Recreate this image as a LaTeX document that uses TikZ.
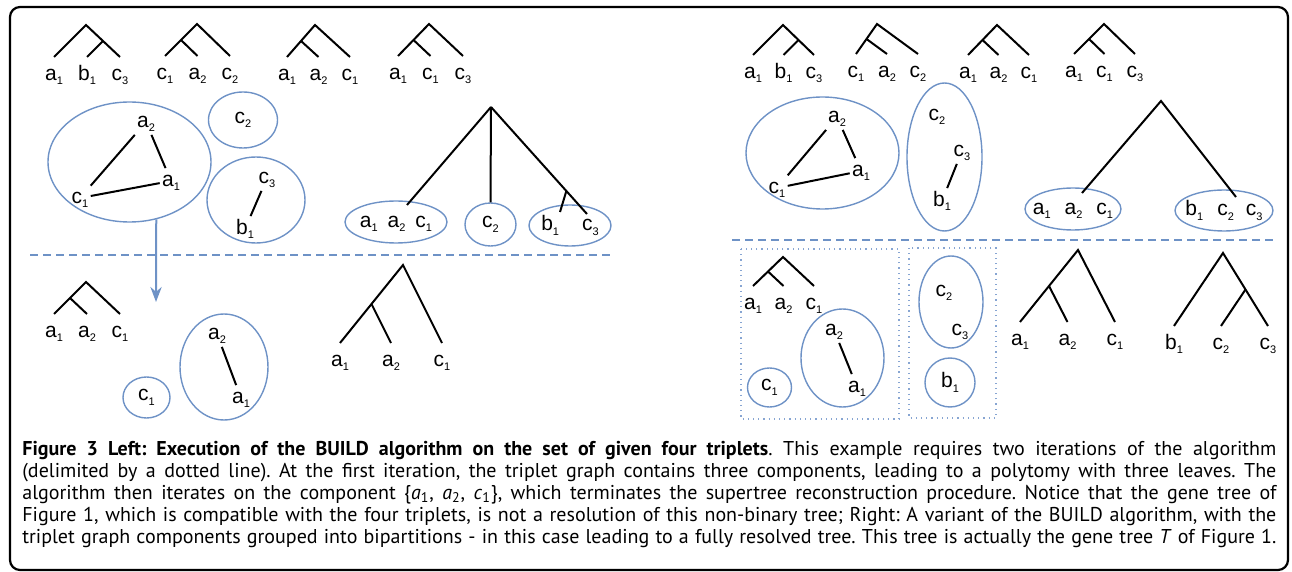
\documentclass[tikz,border=0pt]{standalone}
\usepackage{fontspec}
\setmainfont{PT Sans}
\newfontfamily\labfont{Liberation Sans}
\usetikzlibrary{arrows.meta, positioning, shapes.geometric, calc}
\definecolor{compblue}{RGB}{110,146,198}
\definecolor{boxblue}{RGB}{135,165,210}
\newcommand{\taxon}[2]{#1\raisebox{-0.4ex}{\fontsize{5.5}{6}\selectfont#2}}
\frenchspacing

\begin{document}
\begin{tikzpicture}[
    x=0.5pt, y=-0.5pt,
    branch/.style={line width=1pt},
    leaf/.style={font=\labfont\fontsize{10.5}{12}\selectfont, inner sep=1pt, text height=8pt, text depth=2.5pt},
    comp/.style={ellipse, draw=compblue, line width=0.7pt, inner sep=0pt, font=\labfont\fontsize{10.5}{12}\selectfont},
    part/.style={draw=boxblue, line width=0.6pt, dotted},
    cut/.style={draw=compblue, line width=1.2pt, dash pattern=on 4pt off 2.5pt},
    caption/.style={font=\fontsize{10}{11}\selectfont, inner sep=0pt, align=left},
    >=Stealth
]
    \useasboundingbox (0,0) rectangle (1292,572);
    \draw[line width=1.1pt, rounded corners=5pt] (10,7) rectangle (1288,570);

    % triplets and resolved trees
    \foreach \tr/\x/\y/\wl/\wr/\h/\s/\A/\B/\C in {
        t1/86/25/32/34/32/1/\taxon{a}{1}/\taxon{b}{1}/\taxon{c}{3},
        t2/197/24/32/33/32/-1/\taxon{c}{1}/\taxon{a}{2}/\taxon{c}{2},
        t3/315/25/28/35/32/-1/\taxon{a}{1}/\taxon{a}{2}/\taxon{c}{1},
        t4/429/24/31/34/32/-1/\taxon{a}{1}/\taxon{c}{1}/\taxon{c}{3},
        t5/86/282/32/34/32/-1/\taxon{a}{1}/\taxon{a}{2}/\taxon{c}{1},
        t6/403/265/63/39/78/-1/\taxon{a}{1}/\taxon{a}{2}/\taxon{c}{1},
        u1/783/25/30/31/30/1/\taxon{a}{1}/\taxon{b}{1}/\taxon{c}{3},
        u2/877/24/21/41/30/-1/\taxon{c}{1}/\taxon{a}{2}/\taxon{c}{2},
        u3/997/25/29/32/30/-1/\taxon{a}{1}/\taxon{a}{2}/\taxon{c}{1},
        u4/1104/24/30/31/30/-1/\taxon{a}{1}/\taxon{c}{1}/\taxon{c}{3},
        u5/783/257/30/31/29/-1/\taxon{a}{1}/\taxon{a}{2}/\taxon{c}{1},
        u6/1078/250/58/37/72/-1/\taxon{a}{1}/\taxon{a}{2}/\taxon{c}{1},
        u7/1223/253/49/45/73/1/\taxon{b}{1}/\taxon{c}{2}/\taxon{c}{3}}{
        \coordinate (\tr-P) at (\x,\y);
        \coordinate (\tr-L) at ({\x-\wl},{\y+\h});
        \coordinate (\tr-R) at ({\x+\wr},{\y+\h});
        \coordinate (\tr-I) at ({\x+0.25*((1+\s)*\wr-(1-\s)*\wl)},{\y+\h/2});
        \coordinate (\tr-C) at ({\x+(\wr-\wl)/2},{\y+\h});
        \draw[branch] (\tr-L) -- (\tr-P) -- (\tr-R);
        \draw[branch] (\tr-I) -- (\tr-C);
        \node[leaf, below=2.5pt of \tr-L] (\tr-a) {\A};
        \node[leaf, below=2.5pt of \tr-C] (\tr-b) {\B};
        \node[leaf, below=2.5pt of \tr-R] (\tr-c) {\C};
    }

    % left: first iteration graph
    \node[comp, minimum width=81.5pt, minimum height=60pt] (g1) at (129.5,162) {};
    \node[leaf] (g1-a2) at (146,122) {\taxon{a}{2}};
    \node[leaf] (g1-a1) at (171,181) {\taxon{a}{1}};
    \node[leaf] (g1-c1) at (80,198) {\taxon{c}{1}};
    \draw[branch] (g1-a2) -- (g1-c1);
    \draw[branch] (g1-a2) -- (g1-a1);
    \draw[branch] (g1-c1) -- (g1-a1);
    \node[comp, minimum width=34.5pt, minimum height=28pt] (g2) at (243,120) {\taxon{c}{2}};
    \node[comp, minimum width=49pt, minimum height=43pt] (g3) at (256,200) {};
    \node[leaf] (g3-c3) at (267,178) {\taxon{c}{3}};
    \node[leaf] (g3-b1) at (245,229) {\taxon{b}{1}};
    \draw[branch] (g3-c3) -- (g3-b1);

    % left: polytomy
    \coordinate (pl) at (491,107);
    \node[comp, minimum width=51pt, minimum height=21pt] (pl-1) at (396,222) {};
    \node[leaf] (pl-1t) at (pl-1) {\taxon{a}{1}\hspace{5pt}\taxon{a}{2}\hspace{5pt}\taxon{c}{1}};
    \node[comp, minimum width=25.5pt, minimum height=21.5pt] (pl-2) at (490.5,224.5) {\taxon{c}{2}};
    \node[comp, minimum width=41pt, minimum height=20.5pt] (pl-3) at (570,225.5) {};
    \node[leaf] (pl-3t) at (pl-3) {\taxon{b}{1}\hspace{11.5pt}\taxon{c}{3}};
    \coordinate (pl-a) at (407,205);
    \coordinate (pl-c) at (587,214);
    \coordinate (pl-d) at ($(pl)!0.785!(pl-c)$);
    \coordinate (pl-e) at (560,212);
    \draw[branch] (pl) -- (pl-a);
    \draw[branch] (pl) -- (pl-2.north);
    \draw[branch] (pl) -- (pl-c);
    \draw[branch] (pl-d) -- (pl-e);

    \coordinate (down) at (156,302);
    \draw[->, draw=compblue, line width=1pt] (g1.-65) -- (down);
    \coordinate (cutl-w) at (30,255);
    \coordinate (cutl-e) at (611,255);
    \draw[cut] (cutl-w) -- (cutl-e);

    % left: second iteration
    \node[comp, minimum width=23.5pt, minimum height=20.5pt] (h1) at (146.5,397.5) {\taxon{c}{1}};
    \node[comp, minimum width=44pt, minimum height=53pt] (h2) at (224,367) {};
    \node[leaf] (h2-a2) at (217,334) {\taxon{a}{2}};
    \node[leaf] (h2-a1) at (241,398) {\taxon{a}{1}};
    \draw[branch] (h2-a2) -- (h2-a1);

    % right: first iteration graph
    \node[comp, minimum width=76.5pt, minimum height=56pt] (r1) at (822.5,153) {};
    \node[leaf] (r1-a2) at (837,117) {\taxon{a}{2}};
    \node[leaf] (r1-a1) at (861,171) {\taxon{a}{1}};
    \node[leaf] (r1-c1) at (777,188) {\taxon{c}{1}};
    \draw[branch] (r1-a2) -- (r1-c1);
    \draw[branch] (r1-a2) -- (r1-a1);
    \draw[branch] (r1-c1) -- (r1-a1);
    \node[comp, minimum width=37.5pt, minimum height=74pt] (r2) at (944.5,157) {};
    \node[leaf] (r2-c2) at (937,115) {\taxon{c}{2}};
    \node[leaf] (r2-c3) at (962,151) {\taxon{c}{3}};
    \node[leaf] (r2-b1) at (942,201) {\taxon{b}{1}};
    \draw[branch] (r2-c3) -- (r2-b1);

    % right: bipartition
    \coordinate (pr) at (1161,101);
    \node[comp, minimum width=48pt, minimum height=21pt] (pr-1) at (1073,209) {};
    \node[leaf] (pr-1t) at (pr-1) {\taxon{a}{1}\hspace{7pt}\taxon{a}{2}\hspace{7pt}\taxon{c}{1}};
    \node[comp, minimum width=49pt, minimum height=20.5pt] (pr-2) at (1224,210.5) {};
    \node[leaf] (pr-2t) at (pr-2) {\taxon{b}{1}\hspace{7pt}\taxon{c}{2}\hspace{6pt}\taxon{c}{3}};
    \coordinate (pr-a) at (1082,193);
    \coordinate (pr-b) at (1236,197);
    \draw[branch] (pr-a) -- (pr) -- (pr-b);

    \coordinate (cutr-w) at (732,240);
    \coordinate (cutr-e) at (1273,240);
    \draw[cut] (cutr-w) -- (cutr-e);

    % right: second iteration, one box per side
    \draw[part] (741,249) rectangle (899,419);
    \draw[part] (909,248) rectangle (996,418);
    \node[comp, minimum width=22pt, minimum height=19.5pt] (s1) at (769.5,387.5) {\taxon{c}{1}};
    \node[comp, minimum width=41.5pt, minimum height=49pt] (s2) at (842.5,358) {};
    \node[leaf] (s2-a2) at (834,330) {\taxon{a}{2}};
    \node[leaf] (s2-a1) at (857,387) {\taxon{a}{1}};
    \draw[branch] (s2-a2) -- (s2-a1);
    \node[comp, minimum width=32pt, minimum height=46pt] (s3) at (951,302) {};
    \node[leaf] (s3-c2) at (944,291) {\taxon{c}{2}};
    \node[leaf] (s3-c3) at (960,330) {\taxon{c}{3}};
    \node[comp, minimum width=25pt, minimum height=24.5pt] (s4) at (950,382.5) {\taxon{b}{1}};

    % caption
    \node[caption, anchor=north west] (cap) at (22,441) {%
        \makebox[627pt][s]{\textbf{Figure 3 Left: Execution of the BUILD algorithm on the set of given four triplets}. This example requires two iterations of the algorithm}\\
        \makebox[627pt][s]{(delimited by a dotted line). At the first iteration, the triplet graph contains three components, leading to a polytomy with three leaves. The}\\
        \makebox[627pt][s]{algorithm then iterates on the component \{\textit{a}\textsubscript{1}, \textit{a}\textsubscript{2}, \textit{c}\textsubscript{1}\}, which terminates the supertree reconstruction procedure. Notice that the gene tree of}\\
        \makebox[627pt][s]{Figure 1, which is compatible with the four triplets, is not a resolution of this non-binary tree; Right: A variant of the BUILD algorithm, with the}\\
        \makebox[627pt][s]{triplet graph components grouped into bipartitions - in this case leading to a fully resolved tree. This tree is actually the gene tree \textit{T} of Figure 1.}};
\end{tikzpicture}
\end{document}
